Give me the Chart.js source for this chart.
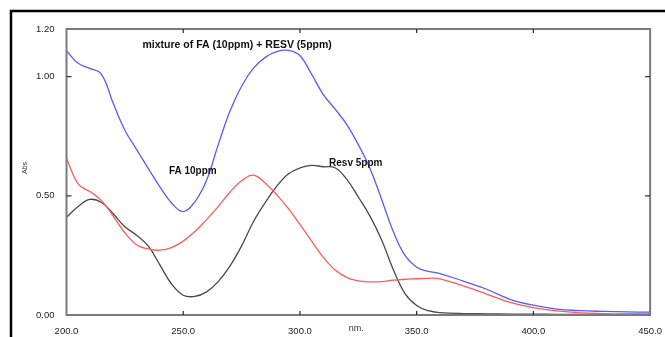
<!DOCTYPE html>
<html>
<head>
<meta charset="utf-8">
<style>
html,body{margin:0;padding:0;background:#fff;}
#c{display:block;}
</style>
<script src="https://cdn.jsdelivr.net/npm/chart.js@4.4.1/dist/chart.umd.min.js"></script>
</head>
<body>
<canvas id="c" width="665" height="337"></canvas>
<script>
// ---- data ----
const wavelengths = [200,205,210,215,220,225,230,235,240,245,250,255,260,265,270,275,280,285,290,295,300,305,310,315,320,325,330,335,340,345,350,355,360,370,380,390,400,410,420,430,440,450];
const mixture = [1.109,1.056,1.035,1.010,0.888,0.775,0.695,0.615,0.538,0.470,0.434,0.475,0.565,0.715,0.855,0.960,1.035,1.080,1.105,1.110,1.088,1.010,0.925,0.865,0.800,0.715,0.615,0.485,0.350,0.250,0.200,0.183,0.174,0.142,0.108,0.066,0.041,0.025,0.018,0.015,0.013,0.012];
const fa10 = [0.658,0.550,0.518,0.480,0.415,0.345,0.295,0.277,0.272,0.283,0.310,0.350,0.400,0.455,0.515,0.563,0.587,0.555,0.505,0.447,0.380,0.310,0.242,0.190,0.158,0.143,0.139,0.140,0.146,0.150,0.152,0.154,0.152,0.122,0.088,0.053,0.031,0.017,0.009,0.006,0.005,0.005];
const resv5 = [0.410,0.455,0.485,0.472,0.425,0.370,0.335,0.290,0.210,0.130,0.083,0.078,0.097,0.140,0.205,0.290,0.390,0.470,0.540,0.592,0.617,0.628,0.622,0.618,0.570,0.495,0.415,0.315,0.190,0.090,0.040,0.018,0.010,0.006,0.005,0.004,0.004,0.003,0.003,0.002,0.002,0.002];
const seriesNames = ["mixture of FA (10ppm) + RESV (5ppm)","FA 10ppm","Resv 5ppm"];
const xTicks = [200,250,300,350,400,450];
const yTicks = [0,0.5,1.0,1.2];
const xTitle = "nm.";
const yTitle = "Abs.";
// label anchors in data units (nm, Abs.)
const labelAnchors = [[273.1,1.133],[254.1,0.604],[323.9,0.638]];

const toPts = arr => wavelengths.map((w,i)=>({x:w,y:arr[i]}));

const FONT = '"Liberation Sans", Arial, sans-serif';

const decor = {
  id:'decor',
  afterDraw(chart){
    const {ctx, chartArea:a, scales:{x,y}} = chart;
    ctx.save();
    // outer black frame (top and left)
    ctx.strokeStyle = '#000'; ctx.lineWidth = 2.5;
    ctx.beginPath(); ctx.moveTo(11,337); ctx.lineTo(11,11); ctx.lineTo(665,11); ctx.stroke();
    // plot border
    ctx.strokeStyle = '#7a7a7a'; ctx.lineWidth = 2;
    ctx.strokeRect(a.left, a.top, a.right-a.left, a.bottom-a.top);
    // inner tick marks
    ctx.strokeStyle = '#333'; ctx.lineWidth = 1.3;
    ctx.beginPath();
    xTicks.slice(1,-1).forEach(v=>{
      const px = x.getPixelForValue(v);
      ctx.moveTo(px,a.top); ctx.lineTo(px,a.top+4);
      ctx.moveTo(px,a.bottom); ctx.lineTo(px,a.bottom-4);
    });
    [0.5,1.0].forEach(v=>{
      const py = y.getPixelForValue(v);
      ctx.moveTo(a.left,py); ctx.lineTo(a.left+5,py);
      ctx.moveTo(a.right,py); ctx.lineTo(a.right-5,py);
    });
    ctx.stroke();
    // series labels
    ctx.fillStyle = '#111';
    ctx.textAlign = 'center'; ctx.textBaseline = 'middle';
    labelAnchors.forEach((p,i)=>{
      ctx.font = 'bold ' + (i===0?'10.5px ':'10px ') + FONT;
      ctx.fillText(seriesNames[i], x.getPixelForValue(p[0]), y.getPixelForValue(p[1]));
    });
    // axis titles
    ctx.fillStyle = '#333';
    ctx.font = '9px ' + FONT;
    ctx.fillText(xTitle, x.getPixelForValue(324.1), a.bottom + 14);
    ctx.save();
    ctx.translate(25, y.getPixelForValue(0.621));
    ctx.rotate(-Math.PI/2);
    ctx.font = '7px ' + FONT;
    ctx.fillText(yTitle, 0, 0);
    ctx.restore();
    ctx.restore();
  }
};

new Chart(document.getElementById('c'), {
  type:'line',
  data:{
    datasets:[
      {label:seriesNames[0], data:toPts(mixture), borderColor:'#5a5aff', borderWidth:1.3},
      {label:seriesNames[1], data:toPts(fa10), borderColor:'#ff5a5a', borderWidth:1.3},
      {label:seriesNames[2], data:toPts(resv5), borderColor:'#4a4a4a', borderWidth:1.3}
    ]
  },
  options:{
    responsive:false,
    animation:false,
    layout:{padding:{top:29,right:13.5,left:0,bottom:0}},
    elements:{point:{radius:0}, line:{tension:0.4, fill:false}},
    plugins:{legend:{display:false}, tooltip:{enabled:false}},
    scales:{
      x:{
        type:'linear', min:200, max:450,
        grid:{display:false}, border:{display:false},
        afterBuildTicks(s){ s.ticks = xTicks.map(v=>({value:v})); },
        afterFit(s){ s.height = 22; },
        ticks:{autoSkip:false, maxRotation:0, padding:3, color:'#222',
          font:{family:FONT, size:9.5}, callback:v=>Number(v).toFixed(1)}
      },
      y:{
        type:'linear', min:0, max:1.2,
        grid:{display:false}, border:{display:false},
        afterBuildTicks(s){ s.ticks = yTicks.map(v=>({value:v})); },
        afterFit(s){ s.width = 66.5; },
        ticks:{autoSkip:false, padding:4, color:'#222',
          font:{family:FONT, size:9.5}, callback:v=>Number(v).toFixed(2)}
      }
    }
  },
  plugins:[decor]
});
</script>
</body>
</html>
